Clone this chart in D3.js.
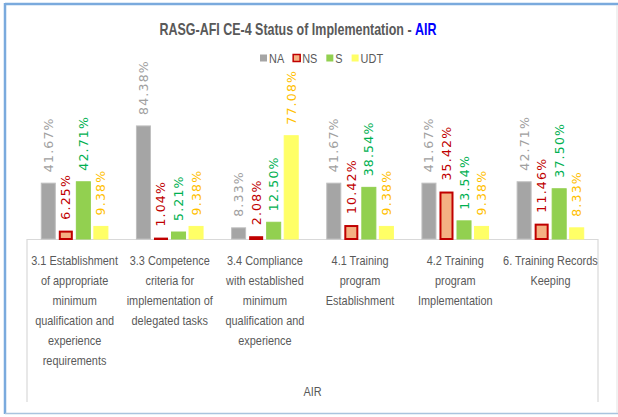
<!DOCTYPE html>
<html>
<head>
<meta charset="utf-8">
<script src="https://cdn.jsdelivr.net/npm/d3@7/dist/d3.min.js"></script>
<style>
body{margin:0;background:#fff;}
svg{display:block;}
</style>
</head>
<body>
<div id="chart"></div>
<script>
// data
var categories = ["3.1", "3.3", "3.4", "4.1", "4.2", "6."];
var categoryLines = [
	["3.1 Establishment", "of appropriate", "minimum", "qualification and", "experience", "requirements"],
	["3.3 Competence", "criteria for", "implementation of", "delegated tasks"],
	["3.4 Compliance", "with established", "minimum", "qualification and", "experience"],
	["4.1 Training", "program", "Establishment"],
	["4.2 Training", "program", "Implementation"],
	["6. Training Records", "Keeping"]
];
var series = ["NA", "NS", "S", "UDT"];
var valuesNA = [41.67, 84.38, 8.33, 41.67, 41.67, 42.71];
var valuesNS = [6.25, 1.04, 2.08, 10.42, 35.42, 11.46];
var valuesS = [42.71, 5.21, 12.50, 38.54, 13.54, 37.50];
var valuesUDT = [9.38, 9.38, 77.08, 9.38, 9.38, 8.33];
var axisTitle = "AIR";

var fills = {NA: '#a5a5a5', NS: '#f4b183', S: '#92d050', UDT: '#ffff66'};
var strokes = {NA: '#bfbfbf', NS: '#c00000', S: '#92d050', UDT: '#ffff66'};
var labelColors = {NA: '#a0a0a0', NS: '#c00000', S: '#00b050', UDT: '#ffc000'};

var W = 618, H = 417;
var font = '"Liberation Sans", Arial, sans-serif';
var squeeze = 0.84; // the original uses a narrow font

var svg = d3.select('#chart').append('svg')
	.attr('width', W)
	.attr('height', H);

// frame
svg.append('line').attr('x1', 5).attr('x2', W).attr('y1', 4).attr('y2', 4)
	.attr('stroke', '#7aaadd').attr('stroke-width', 2.5);
svg.append('line').attr('x1', 5).attr('x2', 5).attr('y1', 3).attr('y2', 414)
	.attr('stroke', '#7aaadd').attr('stroke-width', 2.5);
svg.append('line').attr('x1', 5).attr('x2', W).attr('y1', 413.5).attr('y2', 413.5)
	.attr('stroke', '#a9c4de').attr('stroke-width', 1.5);
svg.append('line').attr('x1', 617).attr('x2', 617).attr('y1', 5).attr('y2', 413)
	.attr('stroke', '#e3e3e3').attr('stroke-width', 1);

// title
var title = svg.append('text')
	.attr('transform', 'translate(298,35) scale(0.78,1)')
	.attr('text-anchor', 'middle')
	.attr('font-family', font)
	.attr('font-weight', 'bold')
	.attr('font-size', 16)
	.attr('fill', '#595959');
title.append('tspan').text('RASG-AFI CE-4 Status of Implementation - ');
title.append('tspan').attr('fill', '#0000ff').text('AIR');

// legend
var lx = 260;
series.forEach(function(s){
	svg.append('rect')
		.attr('x', lx).attr('y', 54.5)
		.attr('width', 7).attr('height', 7)
		.attr('fill', fills[s])
		.attr('stroke', s == 'NS' ? '#c00000' : 'none')
		.attr('stroke-width', 1.5);
	var t = svg.append('text')
		.attr('transform', 'translate(' + (lx + 9) + ',62.5) scale(' + squeeze + ',1)')
		.attr('font-family', font)
		.attr('font-size', 13)
		.attr('fill', '#595959')
		.text(s);
	lx += 9 + t.node().getComputedTextLength()*squeeze + 9;
});

// scales
var x0 = d3.scaleBand()
	.domain(categories)
	.range([27, 598])
	.paddingInner(0.3)
	.paddingOuter(0.15);

var x1 = d3.scaleBand()
	.domain(series)
	.range([0, x0.bandwidth()])
	.paddingInner(0.2);

var y = d3.scaleLinear()
	.domain([0, 100])
	.range([239, 105]);

var table = categories.map(function(c, i){
	return {cat: c, vals: [
		{s: 'NA', v: valuesNA[i]},
		{s: 'NS', v: valuesNS[i]},
		{s: 'S', v: valuesS[i]},
		{s: 'UDT', v: valuesUDT[i]}
	]};
});

// category box
svg.append('path')
	.attr('d', 'M27,402V239.5H598V402')
	.attr('fill', 'none')
	.attr('stroke', '#d9d9d9')
	.attr('stroke-width', 1.2);

var groups = svg.selectAll('.grp')
	.data(table)
	.enter().append('g')
	.attr('class', 'grp')
	.attr('transform', function(d){ return 'translate(' + x0(d.cat) + ',0)'; });

groups.selectAll('rect')
	.data(function(d){ return d.vals; })
	.enter().append('rect')
	.attr('x', function(d){ return x1(d.s) + (d.s == 'NS' ? 1 : 0); })
	.attr('y', function(d){ return y(d.v) + (d.s == 'NS' ? 1 : 0); })
	.attr('width', function(d){ return x1.bandwidth() - (d.s == 'NS' ? 2 : 0); })
	.attr('height', function(d){ return y(0) - y(d.v) - (d.s == 'NS' ? 1 : 0); })
	.attr('fill', function(d){ return fills[d.s]; })
	.attr('stroke', function(d){ return strokes[d.s]; })
	.attr('stroke-width', function(d){ return d.s == 'NS' ? 2 : 1; });

groups.selectAll('.lbl')
	.data(function(d){ return d.vals; })
	.enter().append('text')
	.attr('class', 'lbl')
	.attr('transform', function(d){
		return 'translate(' + (x1(d.s) + x1.bandwidth()/2) + ',' + (y(d.v) - 11) + ') rotate(-90)';
	})
	.attr('dominant-baseline', 'central')
	.attr('font-family', '"DejaVu Sans", Verdana, sans-serif')
	.attr('font-size', 12.5)
	.attr('letter-spacing', 1.2)
	.attr('fill', function(d){ return labelColors[d.s]; })
	.text(function(d){ return d.v.toFixed(2) + '%'; });

// category axis
var xAxis = svg.append('g')
	.attr('transform', 'translate(0,240)')
	.call(d3.axisBottom(x0).tickSize(0).tickPadding(0));
xAxis.select('.domain').remove();
xAxis.selectAll('.tick text').each(function(c, i){
	var t = d3.select(this);
	t.text(null)
		.attr('y', 0)
		.attr('dy', null)
		.attr('transform', 'scale(' + squeeze + ',1)')
		.attr('font-family', font)
		.attr('font-size', 13)
		.attr('fill', '#595959');
	categoryLines[i].forEach(function(line, k){
		t.append('tspan')
			.attr('x', 0)
			.attr('y', 25.5 + k*20)
			.text(line);
	});
});

svg.append('text')
	.attr('transform', 'translate(' + ((x0.range()[0] + x0.range()[1])/2) + ',396) scale(' + squeeze + ',1)')
	.attr('text-anchor', 'middle')
	.attr('font-family', font)
	.attr('font-size', 13)
	.attr('fill', '#595959')
	.text(axisTitle);
</script>
</body>
</html>
